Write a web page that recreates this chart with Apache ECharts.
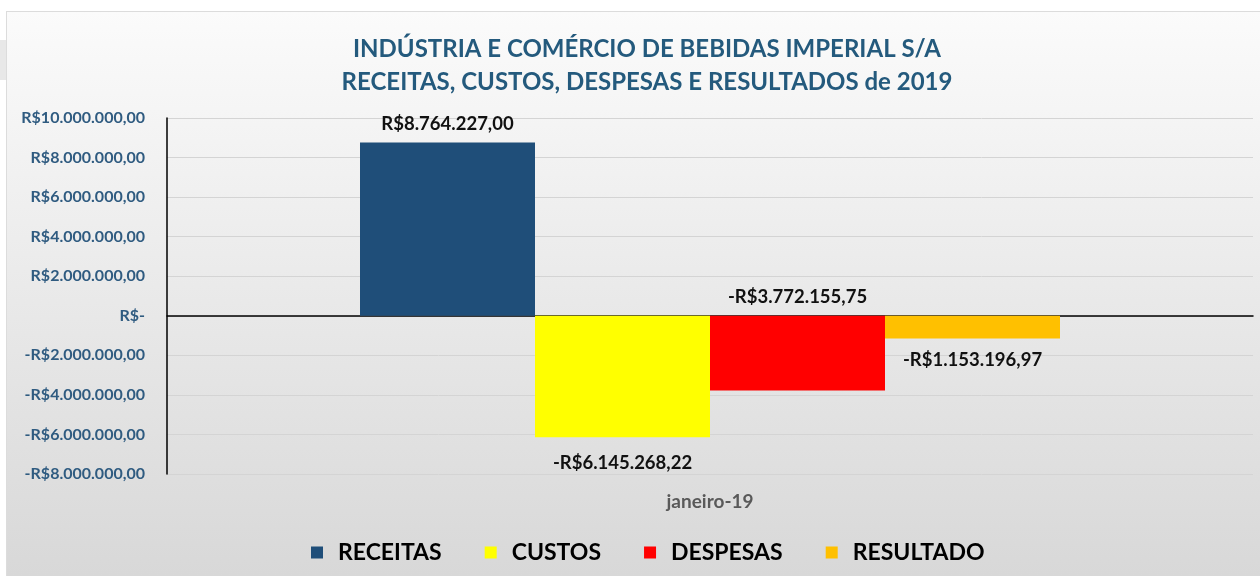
<!DOCTYPE html>
<html>
<head>
<meta charset="utf-8">
<script src="https://cdn.jsdelivr.net/npm/echarts@6/dist/echarts.min.js"></script>
<style>
    html, body { margin: 0; padding: 0; background: #ffffff; }
    #frame { position: absolute; left: 6px; top: 11px; width: 1254px; height: 565px;
             background: linear-gradient(#fbfbfb, #d8d8d8); border-top: 1px solid #dcdcdc; border-left: 1px solid #dcdcdc; box-sizing: border-box; }
    #stub { position: absolute; left: 0; top: 40px; width: 6px; height: 40px; background: #e8e8e8; }
    #chart { position: absolute; left: 0; top: 0; width: 1260px; height: 576px; }
</style>
</head>
<body>
<div id="stub"></div>
<div id="frame"></div>
<div id="chart"></div>
<script>
var categories = ["janeiro-19"];
var seriesNames = ["RECEITAS", "CUSTOS", "DESPESAS", "RESULTADO"];
var receitas = [8764227.00];
var custos = [-6145268.22];
var despesas = [-3772155.75];
var resultado = [-1153196.97];
var yTicks = { min: -8000000, max: 10000000, interval: 2000000 };

function brl(v) {
    if (v === 0) return "R$-";
    var parts = Math.abs(v).toFixed(2).split(".");
    var inteiro = parts[0].replace(/\B(?=(\d{3})+(?!\d))/g, ".");
    return (v < 0 ? "-" : "") + "R$" + inteiro + "," + parts[1];
}

function barSerie(name, data, color, pos, dist) {
    return {
        name: name,
        type: "bar",
        data: data,
        barWidth: 175,
        barGap: "0%",
        itemStyle: { color: color },
        label: {
            show: true,
            position: pos,
            distance: dist,
            fontFamily: "Lato",
            fontWeight: "bold",
            fontSize: 18.5,
            color: "#111111",
            formatter: function (p) { return brl(p.value); }
        }
    };
}

var chart = echarts.init(document.getElementById("chart"));

var option = {
    backgroundColor: "transparent",
    title: {
        text: "INDÚSTRIA E COMÉRCIO DE BEBIDAS IMPERIAL S/A\nRECEITAS, CUSTOS, DESPESAS E RESULTADOS de 2019",
        left: 642,
        textAlign: "center",
        top: 28,
        textStyle: {
            fontFamily: "Lato",
            fontWeight: "bold",
            fontSize: 24,
            lineHeight: 33,
            color: "#245a7d"
        }
    },
    legend: {
        data: seriesNames,
        left: 306,
        top: 536,
        itemWidth: 12,
        itemHeight: 12,
        itemGap: 43,
        icon: "rect",
        textStyle: {
            fontFamily: "Lato",
            fontWeight: "bold",
            fontSize: 23,
            color: "#000000",
            padding: [0, 0, 0, 10]
        }
    },
    grid: {
        left: 167,
        right: 7,
        top: 118,
        bottom: 102
    },
    xAxis: [{
        type: "category",
        data: categories,
        axisLine: { onZero: true, lineStyle: { color: "#000000", width: 1.5 } },
        axisTick: { show: false },
        axisLabel: { show: false }
    }, {
        type: "category",
        data: categories,
        position: "bottom",
        axisLine: { show: false, onZero: false },
        axisTick: { show: false },
        axisLabel: {
            margin: 18,
            fontFamily: "Lato",
            fontWeight: "bold",
            fontSize: 19,
            color: "#595959"
        }
    }],
    yAxis: {
        type: "value",
        min: yTicks.min,
        max: yTicks.max,
        interval: yTicks.interval,
        axisLine: { show: true, lineStyle: { color: "#000000", width: 1.5 } },
        axisTick: { show: false },
        splitLine: { lineStyle: { color: "#d4d4d4", width: 1 } },
        axisLabel: {
            margin: 22,
            fontFamily: "Lato",
            fontWeight: "bold",
            fontSize: 16,
            color: "#2f5b80",
            formatter: brl
        }
    },
    series: [
        barSerie(seriesNames[0], receitas, "#1f4e79", "top", 9),
        barSerie(seriesNames[1], custos, "#ffff00", "bottom", 16),
        barSerie(seriesNames[2], despesas, "#ff0000", "top", 9),
        barSerie(seriesNames[3], resultado, "#ffc000", "bottom", 12)
    ]
};

chart.setOption(option);
</script>
</body>
</html>
